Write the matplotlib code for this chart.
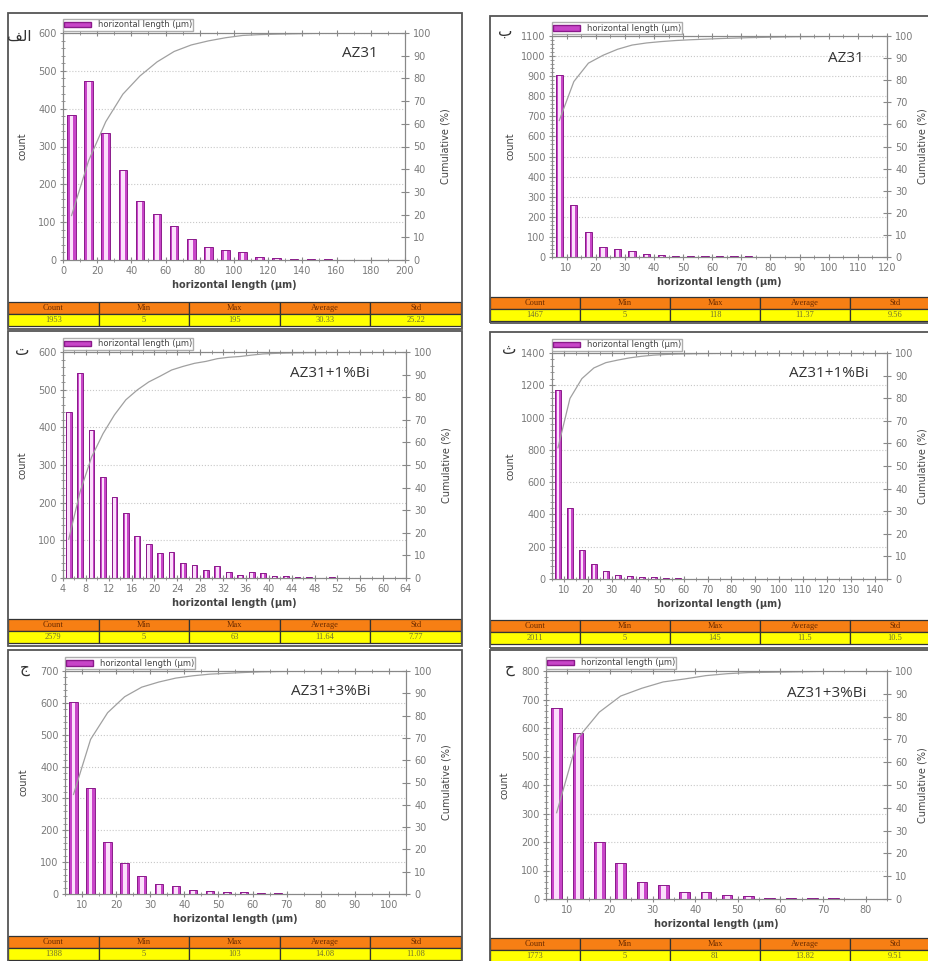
import numpy as np
import matplotlib
matplotlib.use('Agg')
import matplotlib.pyplot as plt
from matplotlib.patches import Rectangle, Patch
from matplotlib.ticker import MultipleLocator, AutoMinorLocator

W, H = 929, 961

# ---------------- data ----------------
# counts per bin
p1_counts = [383, 473, 335, 237, 157, 121, 90, 56, 35, 27, 20, 7, 4, 3, 3, 2, 1, 0, 0, 1]
p2_counts = [905, 258, 122, 52, 40, 28, 14, 9, 7, 5, 4, 4, 3, 3, 2, 2, 2, 1, 1, 1, 1, 0, 1]
p3_counts = [441, 543, 393, 267, 214, 172, 112, 91, 66, 70, 41, 35, 22, 31, 16, 9, 16, 13,
             6, 4, 3, 2, 1, 2, 1, 1, 0, 1, 0, 1]
p4_counts = [1169, 439, 177, 95, 47, 23, 20, 14, 10, 6, 4, 2, 2, 1, 1, 1, 0, 0, 1, 0,
             0, 0, 0, 0, 0, 0, 0, 1]
p5_counts = [604, 334, 162, 97, 58, 31, 24, 14, 10, 5, 5, 4, 2, 1, 1, 0, 0, 0, 1, 0]
p6_counts = [671, 581, 201, 125, 61, 49, 23, 26, 15, 9, 2, 3, 3, 3, 1, 0]

# first bin centre and bin width
p1_bins = (5, 10)
p2_bins = (7.5, 5)
p3_bins = (5, 2)
p4_bins = (7.5, 5)
p5_bins = (7.5, 5)
p6_bins = (7.5, 5)

table_header = ['Count', 'Min', 'Max', 'Average', 'Std']
p1_stats = ['1953', '5', '195', '30.33', '25.22']
p2_stats = ['1467', '5', '118', '11.37', '9.56']
p3_stats = ['2579', '5', '63', '11.64', '7.77']
p4_stats = ['2011', '5', '145', '11.5', '10.5']
p5_stats = ['1388', '5', '103', '14.08', '11.08']
p6_stats = ['1773', '5', '81', '13.82', '9.51']

panel_letters = ['\ufed2\ufedf\ufe8d', '\u0628', '\u062a', '\u062b', '\u062c', '\u062d']
alloy_names = ['AZ31', 'AZ31', 'AZ31+1%Bi', 'AZ31+1%Bi', 'AZ31+3%Bi', 'AZ31+3%Bi']

# axis settings: xlim, xtick step, first xtick, ymax, ytick step
axis_cfg = [
    ((0, 200), 20, 0, 600, 100),
    ((5, 120), 10, 10, 1100, 100),
    ((4, 64), 4, 4, 600, 100),
    ((5, 145), 10, 10, 1400, 200),
    ((5, 105), 10, 10, 700, 100),
    ((5, 85), 10, 10, 800, 100),
]

# ---------------- layout (pixels) ----------------
frames = [(8, 13, 462, 329), (490, 16, 945, 323),
          (8, 331, 462, 646), (490, 332, 945, 648),
          (8, 650, 462, 966), (490, 650, 945, 966)]
plot_boxes = [(63, 33, 405, 260), (552, 36, 887, 257),
              (63, 352, 406, 578), (552, 353, 887, 579),
              (65, 671, 406, 894), (546, 671, 887, 899)]
table_tops = [302, 297, 619, 620, 936, 938]
table_spans = [(8, 461), (490, 940), (8, 461), (490, 940), (8, 461), (490, 940)]
letter_pos = [(19, 36), (505, 31), (22, 351), (509, 349), (25, 669), (510, 668)]
name_pos = [(0.92, 0.91), (0.93, 0.90), (0.895, 0.907), (0.946, 0.91), (0.897, 0.906), (0.94, 0.90)]
cum_label_gap = [36, 31, 36, 31, 36, 31]
row_h = 12

fig = plt.figure(figsize=(W / 100, H / 100), dpi=100)
fig.patch.set_facecolor('white')


def px_axes(l, t, r, b):
    return fig.add_axes([l / W, 1 - b / H, (r - l) / W, (b - t) / H])


def draw_panel(i, counts, bins, stats):
    xlim, xstep, x0, ymax, ystep = axis_cfg[i]
    fl, ft, fr, fb = frames[i]
    fig.patches.append(Rectangle((fl / W, 1 - fb / H), (fr - fl) / W, (fb - ft) / H,
                                 transform=fig.transFigure, fill=False,
                                 edgecolor='#555555', linewidth=1.3, zorder=0))

    al, at, ar, ab = plot_boxes[i]
    ax = px_axes(al, at, ar, ab)
    start, width = bins
    centers = start + width * np.arange(len(counts))
    bw = width * 0.5
    ax.bar(centers, counts, width=bw, color='#c845c8', linewidth=0, zorder=2)
    ax.bar(centers, counts, width=bw * 0.45, color='#fbe0fb', linewidth=0, zorder=3)
    ax.bar(centers, counts, width=bw, fill=False, edgecolor='#8a1a8a', linewidth=0.7, zorder=4)

    ax.set_xlim(*xlim)
    ax.set_ylim(0, ymax)
    ax.set_xticks(np.arange(x0, xlim[1] + 0.01, xstep))
    ax.xaxis.set_minor_locator(AutoMinorLocator(2))
    ax.yaxis.set_major_locator(MultipleLocator(ystep))
    ax.yaxis.set_minor_locator(AutoMinorLocator(5))
    ax.yaxis.grid(True, linestyle=':', color='#c8c8c8', linewidth=0.8)
    ax.set_axisbelow(True)
    for s in ax.spines.values():
        s.set_color('#888888')
    ax.tick_params(which='major', direction='inout', length=5, width=0.8, color='#888888',
                   labelcolor='#7a7a7a', labelsize=7, top=True, pad=2)
    ax.tick_params(which='minor', direction='inout', length=3, width=0.6, color='#888888', top=True)

    ax.set_xlabel('horizontal length (µm)', fontsize=7, fontweight='bold', color='#444444', labelpad=3)
    ax.set_ylabel('count', fontsize=7, color='#444444')
    ax.yaxis.set_label_coords(-36 / (ar - al), 0.5)

    ax2 = ax.twinx()
    cum = np.cumsum(counts) / np.sum(counts) * 100
    ax2.plot(centers, cum, color='#a0a0a0', linewidth=0.9)
    ax2.set_ylim(0, 100)
    ax2.yaxis.set_major_locator(MultipleLocator(10))
    for s in ax2.spines.values():
        s.set_color('#888888')
    ax2.tick_params(axis='y', direction='inout', length=6, width=0.8, color='#888888',
                    labelcolor='#7a7a7a', labelsize=7, pad=3)
    ax2.set_ylabel('Cumulative (%)', fontsize=7, color='#444444')
    ax2.yaxis.set_label_coords(1 + cum_label_gap[i] / (ar - al), 0.5)

    ax.legend(handles=[Patch(facecolor='#c845c8', edgecolor='#8a1a8a')],
              labels=['horizontal length (µm)'], loc='lower left', bbox_to_anchor=(0.0, 1.01),
              fontsize=6, frameon=True, fancybox=False, edgecolor='#999999',
              borderpad=0.15, handlelength=3.2, handleheight=0.7, borderaxespad=0,
              handletextpad=0.8, labelcolor='#444444')

    nx_, ny_ = name_pos[i]
    ax.text(nx_, ny_, alloy_names[i], transform=ax.transAxes, ha='right', va='center',
            fontsize=11, family='Open Sans', color='#333333')

    lx, ly = letter_pos[i]
    fig.text(lx / W, 1 - ly / H, panel_letters[i], ha='center', va='center',
             fontsize=11, family='DejaVu Sans', color='#333333')

    # statistics table
    tl, tr = table_spans[i]
    tt = table_tops[i]
    tax = px_axes(tl, tt, tr, tt + 2 * row_h)
    tax.set_xlim(0, 5)
    tax.set_ylim(0, 2)
    tax.axis('off')
    for c in range(5):
        tax.add_patch(Rectangle((c, 1), 1, 1, facecolor='#f77f14', edgecolor='#333333',
                                linewidth=0.9, clip_on=False))
        tax.add_patch(Rectangle((c, 0), 1, 1, facecolor='#ffff00', edgecolor='#333333',
                                linewidth=0.9, clip_on=False))
        tax.text(c + 0.5, 1.5, table_header[c], ha='center', va='center', fontsize=6,
                 family='Liberation Serif', color='#6a2a00')
        tax.text(c + 0.5, 0.5, stats[c], ha='center', va='center', fontsize=6,
                 family='Liberation Serif', color='#707030')


draw_panel(0, p1_counts, p1_bins, p1_stats)
draw_panel(1, p2_counts, p2_bins, p2_stats)
draw_panel(2, p3_counts, p3_bins, p3_stats)
draw_panel(3, p4_counts, p4_bins, p4_stats)
draw_panel(4, p5_counts, p5_bins, p5_stats)
draw_panel(5, p6_counts, p6_bins, p6_stats)

fig.savefig('out.png', dpi=100)
